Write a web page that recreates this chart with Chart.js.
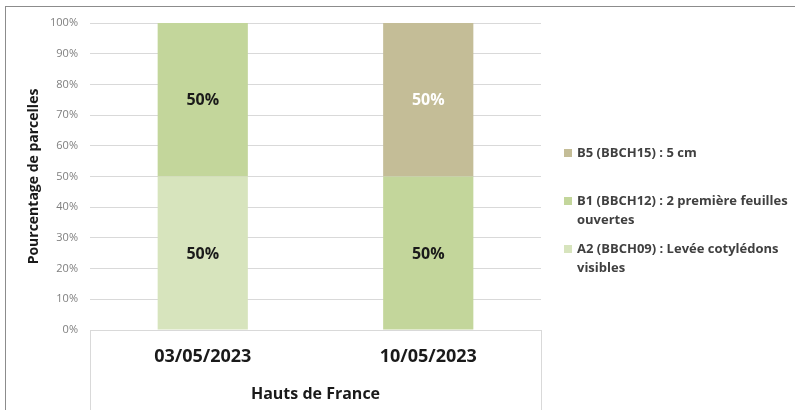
<!DOCTYPE html>
<html>
<head>
<meta charset="utf-8">
<script src="https://cdn.jsdelivr.net/npm/chart.js@4/dist/chart.umd.min.js"></script>
<style>
  body { margin: 0; background: #fff; }
  canvas { display: block; }
</style>
</head>
<body>
<canvas id="stadeChart" width="795" height="410"></canvas>
<script>
        // données (pourcentage de parcelles par stade)
        const dates = ['03/05/2023', '10/05/2023'];
        const stadeA2 = [50, 0];   // A2 (BBCH09)
        const stadeB1 = [50, 50];  // B1 (BBCH12)
        const stadeB5 = [0, 50];   // B5 (BBCH15)
        const yTicks = [0, 10, 20, 30, 40, 50, 60, 70, 80, 90, 100];
        const region = 'Hauts de France';

        const FONT = '"Open Sans", "DejaVu Sans", sans-serif';

        // plugin : cadre, tableau de l'axe x, étiquettes et légende
        const decorPlugin = {
            id: 'decor',
            afterDatasetsDraw(chart) {
                const ctx = chart.ctx;
                const area = chart.chartArea;
                ctx.save();

                // étiquettes de valeur dans les barres
                ctx.font = 'bold 16px ' + FONT;
                ctx.textAlign = 'center';
                ctx.textBaseline = 'middle';
                chart.data.datasets.forEach((ds, i) => {
                    const meta = chart.getDatasetMeta(i);
                    meta.data.forEach((bar, j) => {
                        if (!ds.data[j]) return;
                        ctx.fillStyle = ds.labelColor;
                        ctx.fillText(ds.data[j] + '%', bar.x, (bar.y + bar.base) / 2 + 1);
                    });
                });

                // lignes verticales de l'axe x (tableau)
                ctx.strokeStyle = '#d9d9d9';
                ctx.lineWidth = 1;
                ctx.beginPath();
                ctx.moveTo(Math.round(area.left) + 0.5, area.bottom);
                ctx.lineTo(Math.round(area.left) + 0.5, chart.height);
                ctx.moveTo(Math.round(area.right) + 0.5, area.bottom);
                ctx.lineTo(Math.round(area.right) + 0.5, chart.height);
                ctx.stroke();

                // légende (ordre inversé)
                const legendRows = [
                    { ds: 2, y: 153, lines: ['B5 (BBCH15) : 5 cm'] },
                    { ds: 1, y: 201, lines: ['B1 (BBCH12) : 2 première feuilles', 'ouvertes'] },
                    { ds: 0, y: 249, lines: ['A2 (BBCH09) : Levée cotylédons', 'visibles'] }
                ];
                ctx.font = 'bold 13px ' + FONT;
                ctx.textAlign = 'left';
                legendRows.forEach(row => {
                    const ds = chart.data.datasets[row.ds];
                    ctx.fillStyle = ds.backgroundColor;
                    ctx.fillRect(564, row.y - 4, 8, 8);
                    ctx.fillStyle = '#404040';
                    row.lines.forEach((t, k) => ctx.fillText(t, 577, row.y + k * 19));
                });

                // cadre extérieur
                ctx.strokeStyle = '#8c8c8c';
                ctx.strokeRect(5.5, 6.5, 820, 440);
                ctx.restore();
            }
        };

        const ctxBar = document.getElementById('stadeChart').getContext('2d');
        const stadeChart = new Chart(ctxBar, {
            type: 'bar',
            data: {
                labels: dates,
                datasets: [
                    {
                        label: 'A2 (BBCH09) : Levée cotylédons visibles',
                        data: stadeA2,
                        backgroundColor: '#d7e4bd',
                        labelColor: '#1a1a1a'
                    },
                    {
                        label: 'B1 (BBCH12) : 2 première feuilles ouvertes',
                        data: stadeB1,
                        backgroundColor: '#c3d69b',
                        labelColor: '#1a1a1a'
                    },
                    {
                        label: 'B5 (BBCH15) : 5 cm',
                        data: stadeB5,
                        backgroundColor: '#c4bd97',
                        labelColor: '#ffffff'
                    }
                ]
            },
            options: {
                responsive: false,
                animation: false,
                devicePixelRatio: 1,
                layout: { padding: { top: 23, right: 254, left: 0, bottom: 0 } },
                datasets: { bar: { barPercentage: 0.4, categoryPercentage: 1 } },
                plugins: {
                    legend: { display: false },
                    tooltip: { enabled: false }
                },
                scales: {
                    x: {
                        stacked: true,
                        grid: { display: false },
                        border: { display: true, color: '#d9d9d9' },
                        ticks: {
                            color: '#1a1a1a',
                            font: { family: FONT, size: 18, weight: 'bold' },
                            padding: 8,
                            maxRotation: 0
                        },
                        title: {
                            display: true,
                            text: region,
                            color: '#1a1a1a',
                            font: { family: FONT, size: 16, weight: 'bold' },
                            padding: { top: 0, bottom: 6 }
                        },
                        afterFit(scale) { scale.height = 80; }
                    },
                    y: {
                        stacked: true,
                        min: 0,
                        max: 100,
                        afterBuildTicks(scale) {
                            scale.ticks = yTicks.map(v => ({ value: v }));
                        },
                        grid: { color: '#d9d9d9', drawTicks: false },
                        border: { display: false },
                        ticks: {
                            color: '#7f7f7f',
                            font: { family: FONT, size: 11 },
                            padding: 12,
                            callback: v => v + '%'
                        },
                        title: {
                            display: true,
                            text: 'Pourcentage de parcelles',
                            color: '#1a1a1a',
                            font: { family: FONT, size: 14, weight: 'bold' },
                            padding: { top: 26, bottom: 0 }
                        },
                        afterFit(scale) { scale.width = 90; }
                    }
                }
            },
            plugins: [decorPlugin]
        });
</script>
</body>
</html>
